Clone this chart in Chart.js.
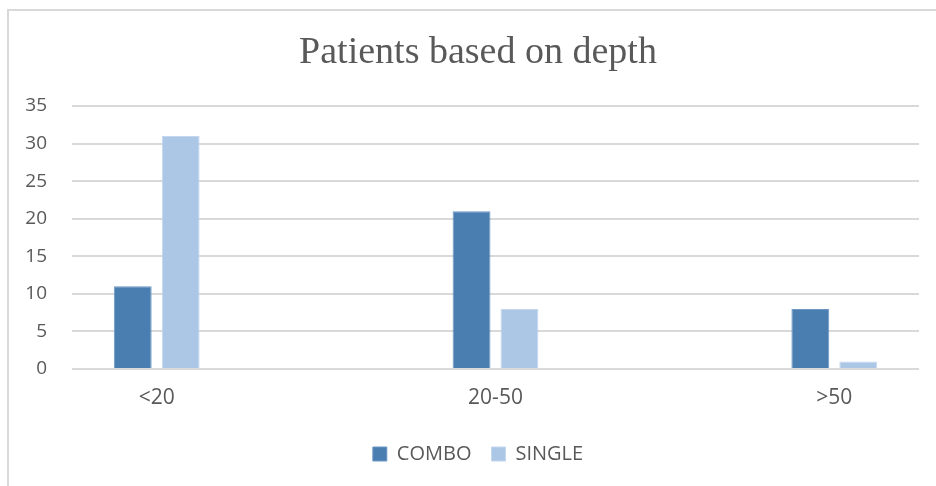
<!DOCTYPE html>
<html>
<head>
<meta charset="utf-8">
<script src="https://cdn.jsdelivr.net/npm/chart.js@4.4.1/dist/chart.umd.min.js"></script>
<style>
  html, body { margin: 0; padding: 0; background: #fff; overflow: hidden; }
  #wrap { position: relative; width: 936px; height: 486px; }
  #frame { position: absolute; left: 7px; top: 9px; width: 1000px; height: 1000px;
           border: 2px solid #d9d9d9; box-sizing: border-box; }
  canvas { position: absolute; left: 0; top: 0; }
</style>
</head>
<body>
<div id="wrap">
  <div id="frame"></div>
  <canvas id="c" width="936" height="486"></canvas>
</div>
<script>
const chartTitle = "Patients based on depth";
const categories = ["<20", "20-50", ">50"];
const comboValues = [11, 21, 8];
const singleValues = [31, 8, 1];
const seriesNames = ["COMBO", "SINGLE"];
const yTicks = [0, 5, 10, 15, 20, 25, 30, 35];

const toPoints = vals => vals.map((v, i) => ({ x: i, y: v }));
const textColor = "#595959";
const gridColor = "#d9d9d9";
const sansFont = "'Open Sans', sans-serif";

new Chart(document.getElementById("c"), {
  type: "bar",
  data: {
    datasets: [
      { label: seriesNames[0], data: toPoints(comboValues), backgroundColor: "#4a7eb1",
        borderColor: "#6d97c4", borderWidth: 1, categoryPercentage: 0.283, barPercentage: 0.79 },
      { label: seriesNames[1], data: toPoints(singleValues), backgroundColor: "#acc6e6",
        borderColor: "#c4d7ee", borderWidth: 1, categoryPercentage: 0.283, barPercentage: 0.79 }
    ]
  },
  options: {
    responsive: false,
    animation: false,
    layout: { padding: { left: 20, right: 0, top: 0, bottom: 12 } },
    plugins: {
      title: {
        display: true, text: chartTitle, color: textColor,
        font: { family: "'Liberation Serif', 'Times New Roman', serif", size: 38, weight: "normal", lineHeight: 1.2 },
        padding: { top: 30, bottom: 30.4 }
      },
      legend: {
        position: "bottom",
        labels: {
          color: textColor, boxWidth: 14, boxHeight: 14, padding: 20,
          font: { family: sansFont, size: 20 }
        }
      },
      tooltip: { enabled: false }
    },
    scales: {
      x: {
        type: "linear", min: -0.25, max: 2.25, offset: false,
        grid: { display: false, drawTicks: false },
        border: { display: false },
        afterBuildTicks: s => { s.ticks = categories.map((_, i) => ({ value: i })); },
        afterFit: s => { s.height = 55; },
        ticks: {
          color: textColor, padding: 16.5, maxRotation: 0, autoSkip: false,
          font: { family: sansFont, size: 21 },
          callback: v => categories[v]
        }
      },
      y: {
        min: 0, max: 35,
        afterBuildTicks: s => { s.ticks = yTicks.map(v => ({ value: v })); },
        afterFit: s => { s.width = 52; },
        grid: { color: gridColor, lineWidth: 2, drawTicks: false },
        border: { display: false },
        ticks: {
          color: textColor, padding: 25,
          font: { family: sansFont, size: 19 }
        }
      },
      yRight: {
        position: "right",
        grid: { display: false, drawTicks: false },
        border: { display: false },
        ticks: { display: false },
        afterFit: s => { s.width = 17; }
      }
    }
  }
});
</script>
</body>
</html>
